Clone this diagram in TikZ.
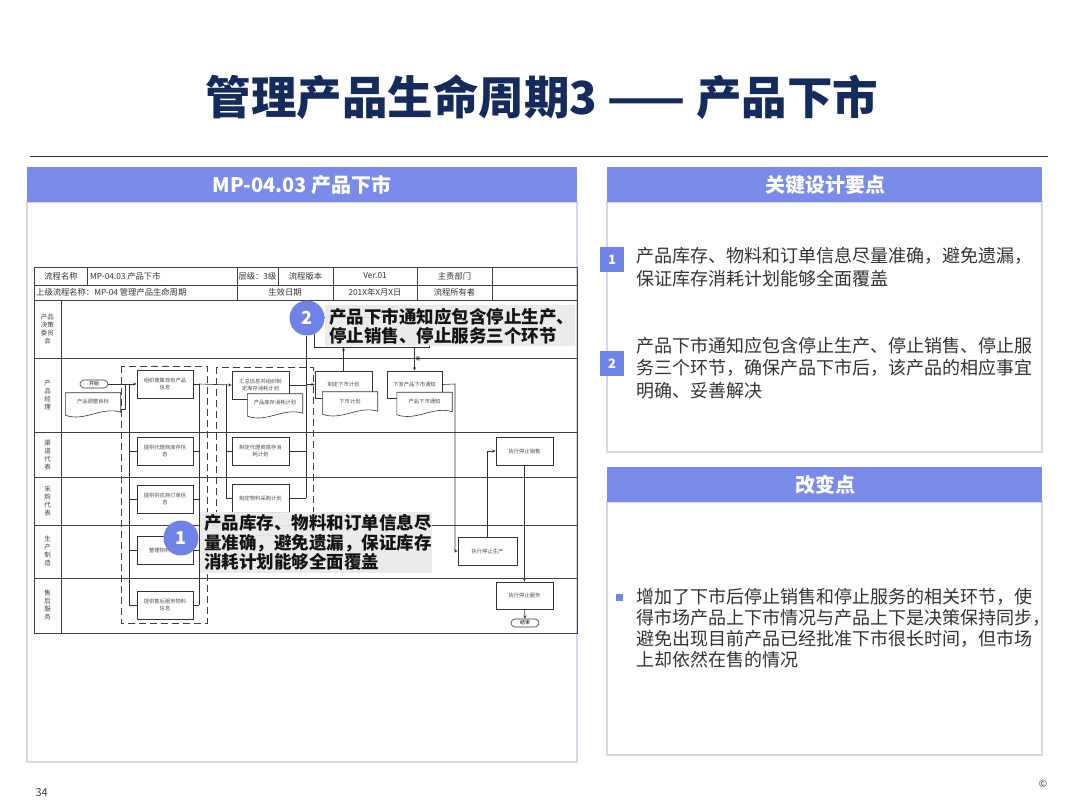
\documentclass[tikz,border=0pt]{standalone}
\usepackage{fontspec}
\setmainfont{Noto Sans CJK SC}
\usetikzlibrary{arrows.meta,calc}
\definecolor{hdrblue}{HTML}{7B8BEA}
\definecolor{circblue}{HTML}{6F83E6}
\definecolor{pborder}{HTML}{D3D6EE}
\definecolor{titlenavy}{HTML}{152B5C}
\definecolor{txt}{HTML}{333333}
\definecolor{callgray}{HTML}{EAEAEA}
\newcommand\fs[2]{\fontsize{#1}{#2}\selectfont}
\newcommand\wavydoc[1]{%
  \draw[ln,fill=white] (#1.north west) -- (#1.north east) -- ($(#1.south east)+(0,-3)$)
   .. controls ($(#1.south east)!0.35!(#1.south west)+(0,-9)$) and ($(#1.south west)!0.35!(#1.south east)+(0,7)$) .. (#1.south west) -- cycle;}
\tikzset{
 hdrtext/.style={text=white, font=\bfseries\fs{20}{24}},
 panel/.style={draw=pborder, line width=1.3pt},
 tline/.style={draw=black!75, line width=0.8pt},
 celltext/.style={font=\fs{8.3}{10}, text=black!80, inner sep=0},
 lanetext/.style={font=\fs{6.5}{8}, text=black!75, align=center, inner sep=0},
 fbox/.style={draw=black!80, line width=0.6pt, fill=white, minimum width=57pt, minimum height=28pt, align=center, font=\fs{5.3}{7}, text=black!70, inner sep=1pt},
 docn/.style={minimum width=55pt, minimum height=22pt, inner sep=0},
 doctext/.style={font=\fs{5.3}{7}, text=black!70, inner sep=0},
 term/.style={draw=black!80, line width=0.6pt, fill=white, rounded corners=4pt, minimum width=28pt, minimum height=8pt, inner sep=0, font=\fs{5}{6}},
 ln/.style={draw=black!80, line width=0.6pt},
 arr/.style={-{Stealth[length=3.5pt,width=3pt]}},
 dbox/.style={draw=black!75, line width=0.8pt, dash pattern=on 7pt off 4pt},
 callbox/.style={fill=callgray, fill opacity=0.93, draw=none},
 calltext/.style={font=\bfseries\fs{17.5}{19.5}, text=black!92, align=left, inner sep=0, anchor=west},
 circ/.style={circle, fill=circblue, minimum size=35pt, inner sep=0, text=white, font=\bfseries\fs{18}{20}},
 badge/.style={fill=circblue, minimum width=24pt, minimum height=25pt, inner sep=0, text=white, font=\bfseries\fs{13}{15}},
 bodytext/.style={font=\fs{18}{22.5}, text=txt, align=left, inner sep=0, anchor=west},
}
\begin{document}
\begin{tikzpicture}[x=1pt,y=-1pt]
\useasboundingbox (0,0) rectangle (1080,810);
\fill[white] (0,0) rectangle (1080,810);
% title
\node[font=\bfseries\fs{45.5}{50}, text=titlenavy] (title) at (542,97) {管理产品生命周期3 —— 产品下市};
\draw[line width=1pt, black!80] (30,157) -- (1048,157);
% left panel
\draw[panel] (27,202) rectangle (577,762);
\fill[hdrblue] (27,167) rectangle (577,202);
\node[hdrtext] (lh) at (302,185) {MP-04.03 产品下市};
% right panels
\draw[panel] (607,202) rectangle (1042,452);
\fill[hdrblue] (607,167) rectangle (1042,202);
\node[hdrtext] (rh1) at (825,185) {关键设计要点};
\draw[panel] (607,502) rectangle (1042,755);
\fill[hdrblue] (607,467) rectangle (1042,502);
\node[hdrtext] (rh2) at (825,485) {改变点};
\node[badge] (bd1) at (612,260) {1};
\node[badge] (bd2) at (612,364) {2};
\node[bodytext] (t1) at (636,267) {产品库存、物料和订单信息尽量准确，避免遗漏，\\保证库存消耗计划能够全面覆盖};
\node[bodytext] (t2) at (636,368) {产品下市通知应包含停止生产、停止销售、停止服\\务三个环节，确保产品下市后，该产品的相应事宜\\明确、妥善解决};
\fill[circblue] (616,594) rectangle (623,601);
\node[bodytext, font=\fs{18}{21}] (t3) at (636,628.5) {增加了下市后停止销售和停止服务的相关环节，使\\得市场产品上下市情况与产品上下是决策保持同步，\\避免出现目前产品已经批准下市很长时间，但市场\\上却依然在售的情况};
\node[font=\fs{11}{12}, text=black!75, anchor=west] (pg) at (32,793) {34};
\node[font=\fs{10}{12}, text=black!80] (cp) at (1043,784) {©};
% table
\draw[tline] (34,267) rectangle (577,633);
\foreach \y in {285,300,358,432,477,525,578} \draw[tline] (34,\y) -- (577,\y);
\draw[tline] (61,300) -- (61,633);
\foreach \x in {87,237,278,333,417,492} \draw[tline] (\x,267) -- (\x,285);
\foreach \x in {237,333,417,492} \draw[tline] (\x,285) -- (\x,300);
\node[celltext] (h1) at (61,276) {流程名称};
\node[celltext, anchor=west] (h2) at (90,276) {MP-04.03 产品下市};
\node[celltext] (h3) at (257.5,276) {层级：3级};
\node[celltext] (h4) at (305.5,276) {流程版本};
\node[celltext] (h5) at (375,276) {Ver.01};
\node[celltext] (h6) at (454.5,276) {主责部门};
\node[celltext, anchor=west] (h7) at (36,292.5) {上级流程名称：MP-04 管理产品生命周期};
\node[celltext] (h8) at (285,292.5) {生效日期};
\node[celltext] (h9) at (375,292.5) {201X年X月X日};
\node[celltext] (h10) at (454.5,292.5) {流程所有者};
% lanes
\node[lanetext] (l1) at (47.5,329) {产品\\决策\\委员\\会};
\node[lanetext] (l2) at (47.5,395) {产\\品\\经\\理};
\node[lanetext] (l3) at (47.5,455) {渠\\道\\代\\表};
\node[lanetext] (l4) at (47.5,501) {采\\购\\代\\表};
\node[lanetext] (l5) at (47.5,551.5) {生\\产\\制\\造};
\node[lanetext] (l6) at (47.5,605.5) {售\\后\\服\\务};
% dashed groups
\draw[dbox] (121,366) rectangle (207,623);
\draw[dbox] (216,367) rectangle (313,535);
% nodes
\node[term] (start) at (94,384) {开始};
\node[docn] (d0) at (93,404) {};
\node[fbox, minimum width=56pt] (n1) at (165,384) {组织搜集现有产品\\信息};
\node[fbox, minimum width=56pt] (n2) at (165,451) {提供代理商库存信\\息};
\node[fbox, minimum width=56pt] (n3) at (165,499) {提供供应商订单信\\息};
\node[fbox, minimum width=56pt] (n4) at (165,550) {整理物料信息};
\node[fbox, minimum width=56pt] (n5) at (165,605) {提供售后服务物料\\信息};
\node[fbox] (m1) at (260.5,385) {汇总信息并组织制\\定库存消耗计划};
\node[docn] (dm1) at (275,405) {};
\node[fbox] (m2) at (260.5,451) {制定代理商库存消\\耗计划};
\node[fbox] (m3) at (260.5,498) {制定物料采购计划};
\node[fbox, minimum width=115pt, minimum height=30pt] (cb) at (372,332) {};
\node[fbox, minimum height=27pt] (p1) at (343.5,384.5) {制定下市计划};
\node[docn] (dp1) at (350,403) {};
\node[fbox, minimum width=55pt, minimum height=27pt] (p2) at (414.5,384.5) {下发产品下市通知};
\node[docn] (dp2) at (424.5,403.5) {};
\node[fbox, minimum width=59pt] (q1) at (487.5,551) {执行停止生产};
\node[fbox] (q2) at (524.5,451) {执行停止销售};
\node[fbox, minimum height=27pt] (q3) at (524.5,595.5) {执行停止服务};
\node[term] (endn) at (525,623) {结束};
% documents
\wavydoc{d0}\node[doctext] (d0t) at ([yshift=2pt]d0.center) {产品调整目标};
\wavydoc{dm1}\node[doctext] (dm1t) at ([yshift=2pt]dm1.center) {产品库存消耗计划};
\wavydoc{dp1}\node[doctext] (dp1t) at ([yshift=2pt]dp1.center) {下市计划};
\wavydoc{dp2}\node[doctext] (dp2t) at ([yshift=2pt]dp2.center) {产品下市通知};
% buses and connectors
\coordinate (j0) at (125,384);
\coordinate (b1t) at (129,384); \coordinate (b1b) at (129,605);
\coordinate (b2t) at (199,384); \coordinate (b2b) at (199,605);
\coordinate (b3t) at (226,384); \coordinate (b3b) at (226,498);
\coordinate (b4t) at (306,336); \coordinate (b4b) at (306,498);
\coordinate (k1) at (455,384);
\draw[ln,arr] (start.east) -- (n1.west);
\draw[ln] ([yshift=-5pt]d0.east) -| (j0);
\draw[ln] (b1t) -- (b1b);
\foreach \n in {n2,n3,n4,n5} \draw[ln] (b1t |- \n.west) -- (\n.west);
\draw[ln] (b2t) -- (b2b);
\foreach \n in {n1,n2,n3,n4,n5} \draw[ln] (\n.east) -- (b2t |- \n.east);
\draw[ln,arr] (b2t) -- (m1.west);
\draw[ln] (b3t) -- (b3b);
\foreach \n in {m2,m3} \draw[ln] (b3t |- \n.west) -- (\n.west);
\draw[ln] (b4t) -- (b4b);
\foreach \n in {m1,m2,m3} \draw[ln] (\n.east) -- (b4t |- \n.east);
\draw[ln,arr] (b4t |- p1.west) -- (p1.west);
\draw[ln,arr] (p1.north) -- (p1.north |- cb.south);
\draw[ln,arr] (p2.north |- cb.south) -- node[right, font=\fs{4.5}{5}, inner sep=1pt] (yes) {是} (p2.north);
\draw[ln,arr] (p2.east) -- (k1) |- (q1.west);
\draw[ln,arr] (q1.north) |- (q2.west);
\draw[ln,arr] (q2.south) -- (q3.north);
\draw[ln,arr] (q3.south) -- (endn.north);
% callouts
\fill[callbox] (325,305) rectangle (575,346);
\node[calltext] (ct2) at (329,326.5) {产品下市通知应包含停止生产、\\停止销售、停止服务三个环节};
\node[circ] (cc2) at (307,318) {2};
\fill[callbox] (200,512) rectangle (432,573);
\node[calltext] (ct1) at (204,542.5) {产品库存、物料和订单信息尽\\量准确，避免遗漏，保证库存\\消耗计划能够全面覆盖};
\node[circ] (cc1) at (181,538) {1};
\end{tikzpicture}
\end{document}
